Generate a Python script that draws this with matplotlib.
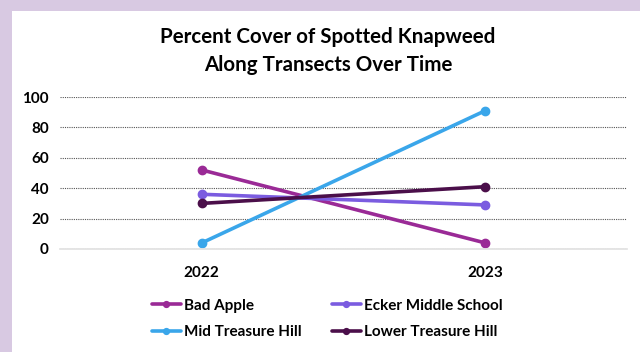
import matplotlib.pyplot as plt
from matplotlib.patches import Rectangle

years = ["2022", "2023"]
bad_apple = [52, 4]
ecker = [36, 29]
mid_treasure = [4, 91]
lower_treasure = [30, 41]

series = [
    ("Bad Apple", bad_apple, "#9a2a96"),
    ("Ecker Middle School", ecker, "#7b5ce0"),
    ("Mid Treasure Hill", mid_treasure, "#3aa6ea"),
    ("Lower Treasure Hill", lower_treasure, "#4b0f4a"),
]

plt.rcParams['font.family'] = ['Lato', 'DejaVu Sans']

fig = plt.figure(figsize=(6.4, 3.52), dpi=100)
fig.patch.set_facecolor("#d8c9e2")

# white panel behind everything
bg = fig.add_axes([0, 0, 1, 1], zorder=-10)
bg.axis("off")
bg.add_patch(Rectangle((12 / 640, 0), 1, 1 - 11 / 352, transform=bg.transAxes,
                       facecolor="white", edgecolor="none"))

ax = fig.add_axes([60 / 640, 1 - 249 / 352, 567 / 640, 152 / 352])
ax.set_facecolor("none")

x = range(len(years))
lines = {}
for name, vals, color in series:
    lines[name], = ax.plot(x, vals, color=color, linewidth=2.6, marker="o",
                           markersize=6, label=name, solid_capstyle="round")

ax.set_xlim(-0.5, 1.5)
ax.set_ylim(0, 100)
ax.set_yticks([0, 20, 40, 60, 80, 100])
ax.set_xticks(list(x))
ax.set_xticklabels(years)
ax.yaxis.grid(True, linestyle=(0, (1, 1)), color="#555555", linewidth=0.8)
ax.set_axisbelow(True)
for s in ["top", "right", "left"]:
    ax.spines[s].set_visible(False)
ax.spines["bottom"].set_color("#e0e0e0")
ax.spines["bottom"].set_linewidth(1.2)
ax.tick_params(length=0, labelsize=11, pad=8)
ax.tick_params(axis="x", pad=12)
for lab in ax.get_xticklabels() + ax.get_yticklabels():
    lab.set_fontweight("bold")

fig.text(328 / 640, 1 - 51 / 352,
         "Percent Cover of Spotted Knapweed\nAlong Transects Over Time",
         ha="center", va="center", fontsize=14.8, fontweight="bold",
         linespacing=1.5)

order = ["Bad Apple", "Mid Treasure Hill", "Ecker Middle School", "Lower Treasure Hill"]
fig.legend([lines[n] for n in order], order, loc="center",
           bbox_to_anchor=(327 / 640, 1 - 319 / 352), ncol=2,
           frameon=False, prop={"size": 11, "weight": "bold"},
           handlelength=1.9, handletextpad=0.2, columnspacing=2.0,
           labelspacing=0.85, markerscale=0.7)

fig.savefig("out.png", dpi=100)
